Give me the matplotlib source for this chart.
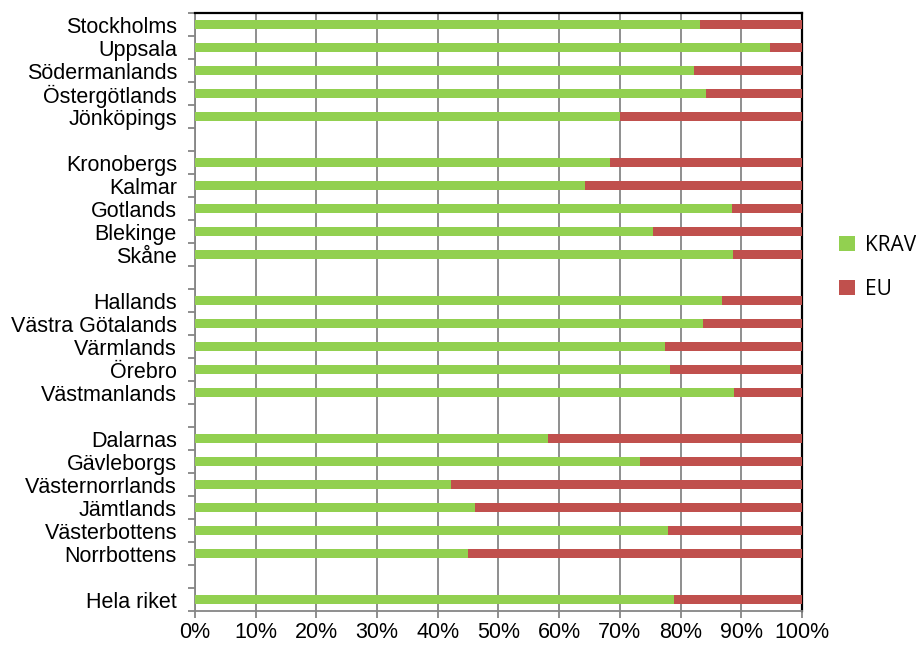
import matplotlib.pyplot as plt
import numpy as np

# län from top to bottom, '' = empty spacer row
lan = ['Stockholms', 'Uppsala', 'Södermanlands', 'Östergötlands', 'Jönköpings', '',
       'Kronobergs', 'Kalmar', 'Gotlands', 'Blekinge', 'Skåne', '',
       'Hallands', 'Västra Götalands', 'Värmlands', 'Örebro', 'Västmanlands', '',
       'Dalarnas', 'Gävleborgs', 'Västernorrlands', 'Jämtlands', 'Västerbottens',
       'Norrbottens', '', 'Hela riket']

# KRAV share in percent (None for spacer rows), EU is the rest
krav = [83.2, 94.8, 82.2, 84.2, 70.0, None,
        68.3, 64.3, 88.4, 75.5, 88.6, None,
        86.9, 83.7, 77.5, 78.2, 88.8, None,
        58.1, 73.3, 42.2, 46.1, 77.9, 44.9, None,
        78.9]

green = '#92D050'
red = '#C0504D'

pos = np.arange(len(lan))
rows = [i for i, v in enumerate(krav) if v is not None]
krav_v = np.array([krav[i] for i in rows]) / 100
eu_v = 1 - krav_v

fig = plt.figure(figsize=(9.16, 6.47), dpi=100)
ax = fig.add_axes([0.2129, 0.0556, 0.6626, 0.9243])

ax.barh(pos[rows], krav_v, height=0.42, color=green, label='KRAV', zorder=3)
ax.barh(pos[rows], eu_v, left=krav_v, height=0.42, color=red, label='EU', zorder=3)

ax.set_xlim(0, 1)
ax.set_ylim(len(lan) - 0.5, -0.5)
ax.set_xticks(np.arange(0, 1.01, 0.1))
ax.set_xticklabels(['%d%%' % round(t * 100) for t in np.arange(0, 1.01, 0.1)],
                   fontfamily='Liberation Sans', fontsize=15.5)
ax.set_yticks(pos)
ax.set_yticklabels(lan, fontfamily='Liberation Sans', fontsize=15.5)
ax.set_yticks(np.arange(-0.5, len(lan), 1), minor=True)

ax.tick_params(axis='y', which='major', length=0, pad=13)
ax.tick_params(axis='y', which='minor', length=5, width=1.3, color='#868686', direction='out')
ax.tick_params(axis='x', length=5, width=1.3, color='#868686', direction='out', pad=3)

ax.grid(axis='x', color='#868686', linewidth=1.3, zorder=0)
for side in ['left', 'bottom']:
    ax.spines[side].set_color('#868686')
    ax.spines[side].set_linewidth(1.3)
for side in ['top', 'right']:
    ax.spines[side].set_color('black')
    ax.spines[side].set_linewidth(1.6)

leg = ax.legend(loc='center left', bbox_to_anchor=(1.03, 0.575), frameon=False,
                prop={'family': 'Open Sans', 'size': 15}, handlelength=0.75,
                handleheight=0.75, handletextpad=0.5, labelspacing=1.1)

fig.savefig('out.png')
